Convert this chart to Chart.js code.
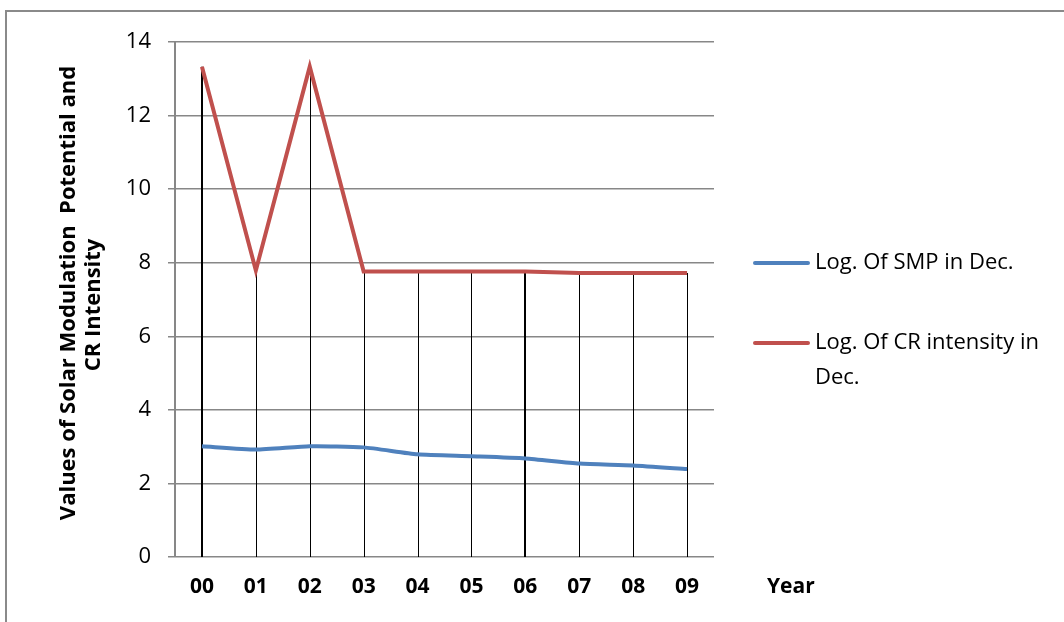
<!DOCTYPE html>
<html>
<head>
<meta charset="utf-8">
<script src="https://cdn.jsdelivr.net/npm/chart.js@4.4.1/dist/chart.umd.min.js"></script>
<style>
  html, body { margin: 0; padding: 0; background: #fff; }
  #wrap { width: 1064px; height: 622px; position: relative; }
</style>
</head>
<body>
<div id="wrap"><canvas id="c" width="1064" height="622"></canvas></div>
<script>
const years = ['00', '01', '02', '03', '04', '05', '06', '07', '08', '09'];
const smpLog = [3.01, 2.92, 3.01, 2.98, 2.79, 2.74, 2.68, 2.54, 2.49, 2.39];
const crLog = [13.33, 7.79, 13.33, 7.76, 7.76, 7.76, 7.76, 7.72, 7.72, 7.72];
const yTicks = [0, 2, 4, 6, 8, 10, 12, 14];
const seriesNames = ['Log. Of SMP in Dec.', 'Log. Of CR intensity in Dec.'];
const yTitleLines = ['Values of Solar Modulation  Potential and', 'CR Intensity'];
const xTitle = 'Year';

const FONT = '"Open Sans", "Liberation Sans", sans-serif';
const BLUE = '#4F81BD';
const RED = '#C0504D';
const GRID = '#878787';

const decor = {
  id: 'decor',
  beforeDraw(chart) {
    const ctx = chart.ctx;
    ctx.save();
    ctx.strokeStyle = '#8a8a8a';
    ctx.lineWidth = 2;
    ctx.beginPath();
    ctx.moveTo(6, 640);
    ctx.lineTo(6, 11);
    ctx.lineTo(1070, 11);
    ctx.stroke();
    ctx.restore();
  },
  beforeDatasetsDraw(chart) {
    const ctx = chart.ctx;
    const meta = chart.getDatasetMeta(1);
    const yBase = chart.scales.y.getPixelForValue(0);
    ctx.save();
    ctx.strokeStyle = '#000';
    meta.data.forEach((pt, i) => {
      ctx.lineWidth = (i === 0 || i === 6) ? 2 : 1;
      const x = Math.round(pt.x) + (ctx.lineWidth === 1 ? 0.5 : 0);
      ctx.beginPath();
      ctx.moveTo(x, pt.y);
      ctx.lineTo(x, yBase);
      ctx.stroke();
    });
    ctx.restore();
  },
  afterDraw(chart) {
    const ctx = chart.ctx;
    ctx.save();
    ctx.fillStyle = '#000';
    ctx.font = 'bold 22px ' + FONT;
    ctx.textAlign = 'center';
    ctx.textBaseline = 'middle';
    ctx.save();
    ctx.translate(69, 293);
    ctx.rotate(-Math.PI / 2);
    ctx.fillText(yTitleLines[0], 0, 0);
    ctx.restore();
    ctx.save();
    ctx.translate(94, 305);
    ctx.rotate(-Math.PI / 2);
    ctx.fillText(yTitleLines[1], 0, 0);
    ctx.restore();
    // x title
    ctx.font = 'bold 21px ' + FONT;
    ctx.textAlign = 'left';
    ctx.fillText(xTitle, 767, 587);
    // legend
    ctx.lineWidth = 4;
    ctx.lineCap = 'round';
    ctx.strokeStyle = BLUE;
    ctx.beginPath(); ctx.moveTo(755, 263); ctx.lineTo(808, 263); ctx.stroke();
    ctx.strokeStyle = RED;
    ctx.beginPath(); ctx.moveTo(755, 343); ctx.lineTo(808, 343); ctx.stroke();
    ctx.font = '22px ' + FONT;
    ctx.fillStyle = '#000';
    ctx.textAlign = 'left';
    ctx.fillText(seriesNames[0], 815, 263);
    ctx.fillText('Log. Of CR intensity in', 815, 343);
    ctx.fillText('Dec.', 815, 378);
    ctx.restore();
  }
};

new Chart(document.getElementById('c'), {
  type: 'line',
  data: {
    labels: years,
    datasets: [
      { label: seriesNames[0], data: smpLog, borderColor: BLUE, borderWidth: 4, pointRadius: 0, tension: 0.2, fill: false },
      { label: seriesNames[1], data: crLog, borderColor: RED, borderWidth: 4, pointRadius: 0, tension: 0, fill: false }
    ]
  },
  options: {
    responsive: false,
    animation: false,
    events: [],
    layout: { padding: { left: 0, right: 350, top: 42, bottom: 0 } },
    plugins: { legend: { display: false }, tooltip: { enabled: false } },
    scales: {
      x: {
        offset: true,
        grid: { display: false, drawTicks: false },
        border: { display: false },
        ticks: { color: '#000', font: { family: FONT, size: 21, weight: 'bold' }, padding: 17, maxRotation: 0 },
        afterFit(scale) { scale.height = 65; }
      },
      y: {
        min: 0, max: 14,
        afterBuildTicks(scale) { scale.ticks = yTicks.map(v => ({ value: v })); },
        grid: { color: GRID, lineWidth: 1.5, tickLength: 7 },
        border: { color: GRID, width: 2 },
        ticks: { color: '#000', font: { family: FONT, size: 22 }, padding: 17 },
        afterFit(scale) { scale.width = 175; }
      }
    }
  },
  plugins: [decor]
});
</script>
</body>
</html>
